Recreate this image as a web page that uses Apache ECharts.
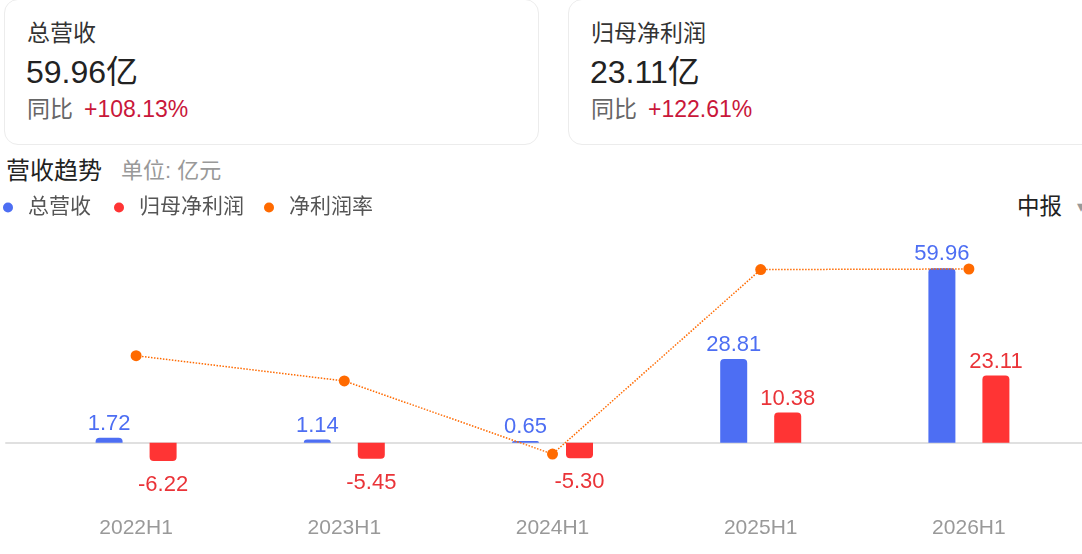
<!DOCTYPE html>
<html><head><meta charset="utf-8">
<script src="https://cdn.jsdelivr.net/npm/echarts@6/dist/echarts.min.js"></script>
<style>
html,body{margin:0;padding:0;background:#fff;width:1082px;height:554px;overflow:hidden;font-family:"Liberation Sans",Arial,"Noto Sans CJK SC",sans-serif;}
.card{position:absolute;top:-1px;height:146px;border:1px solid #ececec;border-radius:14px;box-sizing:border-box;background:#fff;}
.t{position:absolute;white-space:nowrap;line-height:1;}
#chart{position:absolute;left:0;top:0;width:1082px;height:554px;}
</style></head>
<body>
<div class="card" style="left:4px;width:535px;"></div>
<div class="card" style="left:568px;width:560px;"></div>
<div class="t" style="left:27px;top:22px;font-size:23px;color:#333;">总营收</div>
<div class="t" style="left:26px;top:56px;font-size:32px;color:#222;">59.96亿</div>
<div class="t" style="left:27px;top:98px;font-size:23px;color:#666;">同比</div>
<div class="t" style="left:84px;top:98px;font-size:23px;color:#c9173a;">+108.13%</div>
<div class="t" style="left:591px;top:22px;font-size:23px;color:#333;">归母净利润</div>
<div class="t" style="left:590px;top:56px;font-size:32px;color:#222;">23.11亿</div>
<div class="t" style="left:591px;top:98px;font-size:23px;color:#666;">同比</div>
<div class="t" style="left:648px;top:98px;font-size:23px;color:#c9173a;">+122.61%</div>
<div class="t" style="left:6px;top:159px;font-size:24px;color:#222;">营收趋势</div>
<div class="t" style="left:121px;top:160px;font-size:22px;color:#999;">单位: 亿元</div>
<div class="t" style="left:1017px;top:196px;font-size:22.5px;color:#222;">中报</div>
<div class="t" style="left:1077px;top:199px;font-size:16px;color:#999;">▾</div>
<div id="chart"></div>
<script>
const categories = ['2022H1', '2023H1', '2024H1', '2025H1', '2026H1'];
const revenue = [1.72, 1.14, 0.65, 28.81, 59.96];
const netProfit = [-6.22, -5.45, -5.30, 10.38, 23.11];
const netMargin = [-361.63, -478.07, -815.38, 36.03, 38.54];
const seriesNames = ['总营收', '归母净利润', '净利润率'];
const legendLefts = [3, 114, 264];

const BLUE = '#4d6ef3', RED = '#ff3434', RED_TXT = '#ea3338', ORANGE = '#ff6a00';

function barData(arr) {
  return arr.map(v => ({
    value: v,
    label: { position: v < 0 ? 'bottom' : 'top', distance: v < 0 ? 13 : 3 },
    itemStyle: { borderRadius: v < 0 ? [0, 0, 4, 4] : [4, 4, 0, 0] }
  }));
}

const chart = echarts.init(document.getElementById('chart'), null, { renderer: 'canvas' });
chart.setOption({
  animation: false,
  textStyle: { fontFamily: '"Liberation Sans", Arial, "Noto Sans CJK SC", sans-serif' },
  legend: seriesNames.map((n, i) => ({
    data: [n],
    left: legendLefts[i], top: 197, padding: 0,
    icon: 'circle', itemWidth: 10, itemHeight: 10,
    textStyle: { fontSize: 21, color: '#555', padding: [0, 0, 0, 10] }
  })),
  grid: [
    { left: 32, right: 9, top: 239, height: 262 },
    { left: 6, right: 0, top: 239, height: 262 }
  ],
  xAxis: [
    {
      type: 'category', data: categories, gridIndex: 0,
      axisLine: { show: false, onZero: false }, axisTick: { show: false },
      axisLabel: { color: '#999', fontSize: 21, margin: 17 }
    },
    {
      type: 'value', gridIndex: 1, min: 0, max: 1,
      axisLine: { show: true, onZero: true, lineStyle: { color: '#e0e0e0', width: 2 } },
      axisTick: { show: false }, axisLabel: { show: false }, splitLine: { show: false }
    }
  ],
  yAxis: [
    { type: 'value', gridIndex: 0, min: -20, max: 70, show: false },
    { type: 'value', gridIndex: 0, min: -1032, max: 177, show: false },
    { type: 'value', gridIndex: 1, min: -20, max: 70, show: false }
  ],
  series: [
    {
      name: seriesNames[0], type: 'bar', xAxisIndex: 0, yAxisIndex: 0,
      data: barData(revenue), barWidth: 27, barGap: '100%',
      itemStyle: { color: BLUE },
      label: { show: true, color: BLUE, fontSize: 22, formatter: p => p.value.toFixed(2) }
    },
    {
      name: seriesNames[1], type: 'bar', xAxisIndex: 0, yAxisIndex: 0,
      data: barData(netProfit), barWidth: 27, barGap: '100%',
      itemStyle: { color: RED },
      label: { show: true, color: RED_TXT, fontSize: 22, formatter: p => p.value.toFixed(2) }
    },
    {
      name: seriesNames[2], type: 'line', xAxisIndex: 0, yAxisIndex: 1,
      data: netMargin, symbol: 'circle', symbolSize: 11, z: 5,
      itemStyle: { color: ORANGE },
      lineStyle: { color: ORANGE, width: 1.5, type: 'dotted' }
    }
  ]
});
</script>
</body></html>
